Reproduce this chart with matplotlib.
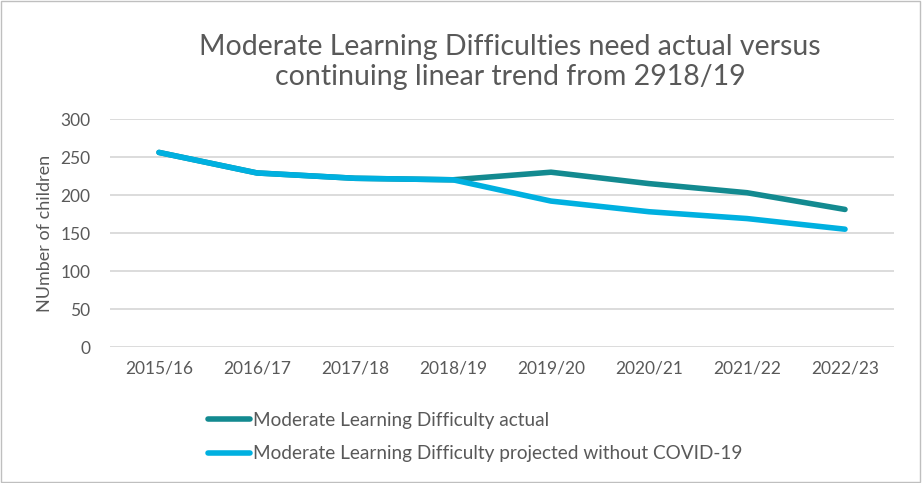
import matplotlib.pyplot as plt
from matplotlib.patches import Rectangle

plt.rcParams['font.family'] = ['Lato', 'DejaVu Sans']

years = ['2015/16', '2016/17', '2017/18', '2018/19', '2019/20', '2020/21', '2021/22', '2022/23']
actual = [256, 229, 222, 220, 230, 215, 203, 181]
projected = [256, 229, 222, 220, 192, 178, 169, 155]

grey = '#595959'
fig = plt.figure(figsize=(9.22, 4.83), dpi=100)
ax = fig.add_axes([110 / 922, 1 - 347 / 483, 784 / 922, 228 / 483])

x = range(len(years))
ax.plot(x, actual, color='#138A90', lw=4, solid_capstyle='round',
        label='Moderate Learning Difficulty actual', zorder=3)
ax.plot(x, projected, color='#00B0E0', lw=4, solid_capstyle='round',
        label='Moderate Learning Difficulty projected without COVID-19', zorder=3)

ax.set_xlim(-0.5, len(years) - 0.5)
ax.set_ylim(0, 300)
ax.set_yticks(range(0, 301, 50))
ax.set_xticks(list(x))
ax.set_xticklabels(years)
ax.yaxis.grid(True, color='#D9D9D9', lw=1.3)
ax.set_axisbelow(True)
for s in ax.spines.values():
    s.set_visible(False)
ax.tick_params(length=0, labelsize=12.5, colors=grey, pad=10)
ax.tick_params(axis='y', pad=14)
ax.set_ylabel('NUmber of children', fontsize=13, color=grey, labelpad=5)

fig.text(510 / 922, 1 - 62 / 483,
         'Moderate Learning Difficulties need actual versus\ncontinuing linear trend from 2918/19',
         ha='center', va='center', fontsize=20.5, color=grey, linespacing=1.2)

leg = fig.legend(loc='upper left', bbox_to_anchor=(191 / 922, 1 - 395 / 483),
                 frameon=False, fontsize=13.7, labelcolor=grey, handlelength=2.2,
                 handletextpad=0.15, labelspacing=0.85)

fig.patches.append(Rectangle((0.001, 0.002), 0.997, 0.996, transform=fig.transFigure,
                             fill=False, edgecolor='#BFBFBF', lw=1))

fig.savefig('out.png', dpi=100)
